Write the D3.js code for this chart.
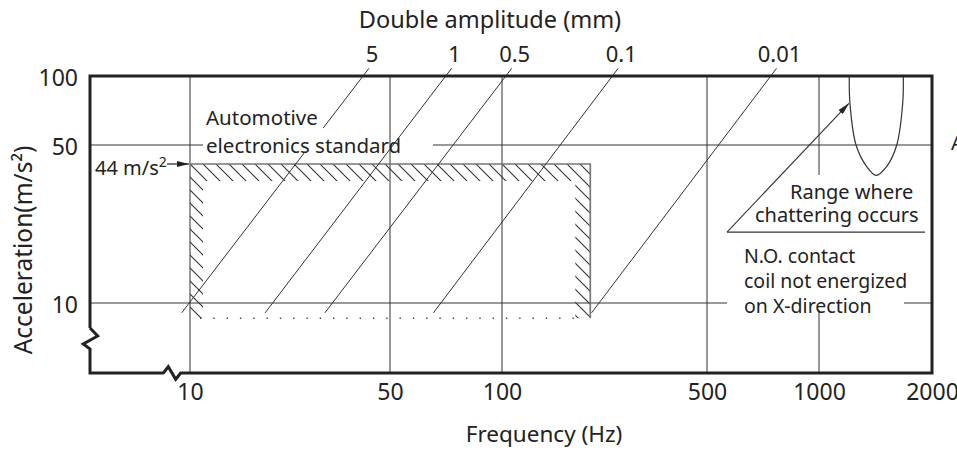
<!DOCTYPE html>
<html>
<head>
<meta charset="utf-8">
<script src="https://cdn.jsdelivr.net/npm/d3@7"></script>
<style>
  body { margin: 0; background: #fff; }
  svg { display: block; font-family: "Noto Sans", sans-serif; }
  text { fill: #222; }
</style>
</head>
<body>
<svg width="957" height="450"></svg>
<script>
const LEFT = 90;
const TOP = 76;
const RIGHT = 932;
const BOTTOM = 373;
const INK = "#222";
const GRID_GRAY = "#777";

// axis ticks
const x_ticks = [10, 50, 100, 500, 1000, 2000];
const y_ticks = [10, 50, 100];

// constant double amplitude lines (mm), read at both ends
const amplitudes = ["5", "1", "0.5", "0.1", "0.01"];
const amp_freq_low = [9.35, 18.3, 29.6, 65.4, 202];
const amp_freq_high = [42.2, 73.2, 107.9, 249, 769];
const amp_acc = [9.0, 108];

// automotive electronics standard box
const standard_freq = [10, 200];
const standard_acc = [8.5, 44];

// range where chattering occurs
const chatter_freq = [1204, 1209, 1255, 1340, 1419, 1514, 1611, 1671, 1677];
const chatter_acc = [100, 76, 50, 42.8, 39, 42.8, 50, 76, 100];
const pointer_freq = [566, 1209, 1916];
const pointer_acc = [21.3, 76];

var x_scale, y_scale;

function build_scales() {
  // the printed grid is not a true log grid, so map each printed tick
  x_scale = d3.scaleLog()
    .domain(x_ticks)
    .range([190, 390, 502, 707, 819, 932]);
  y_scale = d3.scaleLog()
    .domain([10, 44, 50, 100])
    .range([303, 164, 145, 76]);
}

function add_defs() {
  var defs = d3.select("svg").append("defs");
  defs.append("pattern")
    .attr("id", "hatch")
    .attr("patternUnits", "userSpaceOnUse")
    .attr("width", 13)
    .attr("height", 13)
    .append("path")
    .attr("d", "M0,0L13,13M-1,12L1,14M12,-1L14,1")
    .attr("stroke", "#333")
    .attr("stroke-width", 1.1);
  defs.append("marker")
    .attr("id", "arrow")
    .attr("viewBox", "0 0 12 6")
    .attr("refX", 12)
    .attr("refY", 3)
    .attr("markerUnits", "userSpaceOnUse")
    .attr("markerWidth", 12)
    .attr("markerHeight", 6)
    .attr("orient", "auto")
    .append("path")
    .attr("d", "M0,0L12,3L0,6Z")
    .attr("fill", INK);
}

function white_mask(x, y, w, h) {
  d3.select("svg").append("rect")
    .attr("x", x).attr("y", y).attr("width", w).attr("height", h)
    .attr("fill", "#fff");
}

function draw_grid() {
  var svg = d3.select("svg");
  svg.append("g").selectAll("line")
    .data(y_ticks)
    .enter()
    .append("line")
    .attr("x1", LEFT)
    .attr("x2", RIGHT)
    .attr("y1", (d) => y_scale(d))
    .attr("y2", (d) => y_scale(d))
    .attr("stroke", GRID_GRAY)
    .attr("stroke-width", 1.7);
  // gap in the 50 line behind the standard label
  white_mask(203, 141, 230, 9);
  svg.append("g").selectAll("line")
    .data(x_ticks)
    .enter()
    .append("line")
    .attr("x1", (d) => x_scale(d))
    .attr("x2", (d) => x_scale(d))
    .attr("y1", TOP)
    .attr("y2", BOTTOM)
    .attr("stroke", "#333")
    .attr("stroke-width", 1);
}

function draw_standard() {
  var svg = d3.select("svg");
  var x0 = x_scale(standard_freq[0]), x1 = x_scale(standard_freq[1]);
  var y0 = y_scale(standard_acc[1]), yb = y_scale(standard_acc[0]);
  var outer = "M" + x0 + "," + y0 + "H" + x1 + "V" + yb + "H" + x0 + "Z";
  var inner = "M" + (x0 + 13) + "," + (y0 + 17) + "H" + (x1 - 15) + "V" + yb + "H" + (x0 + 13) + "Z";
  svg.append("path")
    .attr("d", outer + inner)
    .attr("fill-rule", "evenodd")
    .attr("fill", "url(#hatch)");
  svg.append("path")
    .attr("d", "M" + x0 + "," + y0 + "H" + x1 + "V" + yb)
    .attr("fill", "none")
    .attr("stroke", GRID_GRAY)
    .attr("stroke-width", 1.7);
  svg.append("line")
    .attr("x1", x0 + 10).attr("x2", x1 - 12)
    .attr("y1", yb).attr("y2", yb)
    .attr("stroke", "#444")
    .attr("stroke-width", 1.4)
    .attr("stroke-dasharray", "1.4 11.9");
}

function draw_amplitudes() {
  var svg = d3.select("svg");
  svg.append("g").selectAll("line")
    .data(amplitudes)
    .enter()
    .append("line")
    .attr("x1", (d, i) => x_scale(amp_freq_low[i]))
    .attr("y1", y_scale(amp_acc[0]))
    .attr("x2", (d, i) => x_scale(amp_freq_high[i]))
    .attr("y2", y_scale(amp_acc[1]))
    .attr("stroke", "#333")
    .attr("stroke-width", 1);
  svg.append("g").selectAll("text")
    .data(amplitudes)
    .enter()
    .append("text")
    .attr("x", (d, i) => x_scale(amp_freq_high[i]) + 3)
    .attr("y", 62)
    .attr("text-anchor", "middle")
    .attr("font-size", 22)
    .text((d) => d);
}

function draw_chatter() {
  var svg = d3.select("svg");
  var pts = chatter_freq.map((f, i) => [f, chatter_acc[i]]);
  var line = d3.line()
    .x((d) => x_scale(d[0]))
    .y((d) => y_scale(d[1]))
    .curve(d3.curveCatmullRom);
  svg.append("path")
    .attr("d", line(pts))
    .attr("fill", "none")
    .attr("stroke", "#333")
    .attr("stroke-width", 1.2);
  svg.append("line")
    .attr("x1", x_scale(pointer_freq[0]))
    .attr("y1", y_scale(pointer_acc[0]))
    .attr("x2", x_scale(pointer_freq[2]))
    .attr("y2", y_scale(pointer_acc[0]))
    .attr("stroke", "#333")
    .attr("stroke-width", 1.2);
  svg.append("line")
    .attr("x1", x_scale(pointer_freq[0]))
    .attr("y1", y_scale(pointer_acc[0]))
    .attr("x2", x_scale(pointer_freq[1]) - 1)
    .attr("y2", y_scale(pointer_acc[1]))
    .attr("stroke", "#333")
    .attr("stroke-width", 1.1)
    .attr("marker-end", "url(#arrow)");
}

function draw_frame() {
  d3.select("svg").append("path")
    .attr("d",
      "M" + LEFT + "," + 328 + "V" + TOP + "H" + RIGHT + "V" + BOTTOM + "H180.7" +
      "L175.7,379.3L168.3,366.7L163.3," + BOTTOM + "H" + LEFT + "V349L83.3,344L97.7,336L" + LEFT + ",328")
    .attr("fill", "none")
    .attr("stroke", INK)
    .attr("stroke-width", 3)
    .attr("stroke-linejoin", "miter");
}

function build_axes() {
  var xAxis = d3.axisBottom(x_scale).tickValues(x_ticks).tickSize(0).tickPadding(11)
    .tickFormat(d3.format("d"));
  var gx = d3.select("svg").append("g")
    .attr("transform", "translate(0," + BOTTOM + ")")
    .call(xAxis);
  gx.select(".domain").remove();
  gx.selectAll("text").attr("font-size", 23).attr("font-family", "Noto Sans").attr("fill", INK);

  var yAxis = d3.axisLeft(y_scale).tickValues(y_ticks).tickSize(0).tickPadding(12)
    .tickFormat(d3.format("d"));
  var gy = d3.select("svg").append("g")
    .attr("transform", "translate(" + LEFT + ",0)")
    .call(yAxis);
  gy.select(".domain").remove();
  gy.selectAll("text").attr("font-size", 23).attr("font-family", "Noto Sans")
    .attr("dy", "0.4em").attr("fill", INK);
}

function label(x, y, size, str) {
  return d3.select("svg").append("text")
    .attr("x", x).attr("y", y)
    .attr("font-size", size)
    .text(str);
}

function add_labels() {
  var svg = d3.select("svg");
  label(490, 28, 23.5, "Double amplitude (mm)").attr("text-anchor", "middle");
  label(544, 442, 22.5, "Frequency (Hz)").attr("text-anchor", "middle");
  svg.append("text")
    .attr("transform", "translate(32,250) rotate(-90)")
    .attr("text-anchor", "middle")
    .attr("font-size", 24.5)
    .text("Acceleration(m/s²)");

  label(206, 125, 20.5, "Automotive");
  label(206, 153, 20.5, "electronics standard");

  var t = label(95, 175, 20, "44 m/s");
  t.append("tspan").attr("font-size", 14).attr("dy", -8).text("2");
  svg.append("line")
    .attr("x1", 167).attr("x2", x_scale(standard_freq[0]) - 1)
    .attr("y1", y_scale(standard_acc[1])).attr("y2", y_scale(standard_acc[1]))
    .attr("stroke", INK).attr("stroke-width", 1.2)
    .attr("marker-end", "url(#arrow)");

  label(790, 199, 20, "Range where");
  label(755, 222, 20, "chattering occurs");
  label(744, 263, 19.5, "N.O. contact");
  label(744, 288, 19.5, "coil not energized");
  label(744, 313, 19.5, "on X-direction");

  // edge of the neighbouring figure, cut off at the border
  label(951, 150, 20, "A");
}

build_scales();
add_defs();
draw_grid();
draw_standard();
draw_amplitudes();
white_mask(300, 128, 32, 25);
white_mask(727, 175, 177, 135);
draw_chatter();
draw_frame();
build_axes();
add_labels();
</script>
</body>
</html>
